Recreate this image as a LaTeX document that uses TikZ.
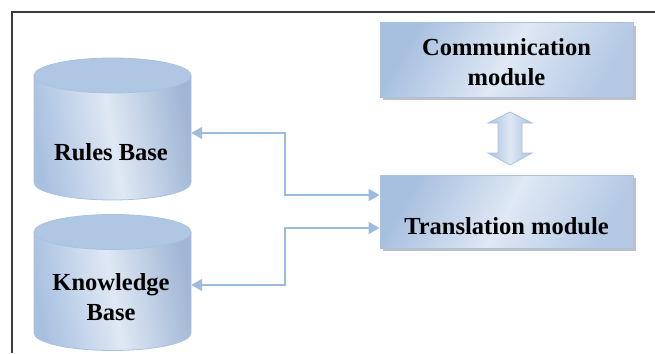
\documentclass[tikz,border=0pt]{standalone}
\usepackage{fontspec}
\setmainfont{Liberation Serif}
\usetikzlibrary{arrows.meta,shadows,calc}

\definecolor{linkblue}{HTML}{9DBBDE}
\definecolor{edgeblue}{HTML}{A9C1E0}
\definecolor{capfill}{HTML}{B0C7E4}
\definecolor{shadeDark}{HTML}{A8C0E0}
\definecolor{shadeLight}{HTML}{DFE8F4}
\definecolor{frameline}{HTML}{3C3C3C}

\tikzset{
  every node/.style={font=\fontsize{24.5}{30}\selectfont\bfseries, text=black},
  modbox/.style={draw=edgeblue, line width=1pt, minimum width=253pt,
    shading=axis, top color=shadeDark, bottom color=shadeDark!85!white,
    middle color=shadeLight, shading angle=60,
    drop shadow={shadow xshift=3pt, shadow yshift=-3pt, opacity=0.55, fill=black!45}},
  label/.style={align=center, inner sep=0pt},
  anchorbox/.style={draw=none, fill=none, inner sep=0pt, minimum width=157pt},
  link/.style={draw=linkblue, line width=2pt,
    {Triangle[length=11pt,width=12pt]}-{Triangle[length=11pt,width=12pt]}},
}

% database drum: #1 centre x, #2 top-cap centre y, #3 bottom centre y (all as negative-y pixels)
\newcommand{\drumshape}[3]{%
  \shade[left color=shadeDark, right color=shadeDark!95!black, middle color=shadeLight,
         shading angle=100]
    (#1-78.5,#2) -- (#1-78.5,#3)
    arc[start angle=180, end angle=360, x radius=78.5, y radius=17.5]
    -- (#1+78.5,#2) -- cycle;
  \draw[edgeblue, line width=0.8pt]
    (#1-78.5,#2) -- (#1-78.5,#3)
    arc[start angle=180, end angle=360, x radius=78.5, y radius=17.5]
    -- (#1+78.5,#2);
  \fill[capfill] (#1,#2) ellipse[x radius=78.5, y radius=17.5];
  \draw[edgeblue, line width=0.8pt] (#1,#2) ellipse[x radius=78.5, y radius=17.5];
}

\begin{document}
\begin{tikzpicture}[x=1pt, y=1pt]
  \useasboundingbox (0,0) rectangle (655,-353);

  % outer frame (top and left edges)
  \draw[frameline, line width=1.6pt] (655,-12) -- (12,-12) -- (12,-353);

  % database drums
  \drumshape{112.5}{-75.5}{-182.5}
  \drumshape{112.5}{-232}{-333}
  \node[anchorbox, minimum height=107pt] (rules) at (112.5,-129) {};
  \node[anchorbox, minimum height=101pt] (know) at (112.5,-282.5) {};
  \node[label] (rulestxt) at (111,-152.5) {Rules Base};
  \node[label] (knowtxt) at (111,-297) {Knowledge\\Base};

  % module boxes
  \node[modbox, minimum height=74pt] (comm) at (506.5,-60) {};
  \node[label] (commtxt) at (506.5,-62) {Communication\\module};
  \node[modbox, minimum height=73pt] (trans) at (506.5,-211.5) {};
  \node[label] (transtxt) at (506.5,-226) {Translation module};

  % block double arrow between the modules
  \shade[draw=edgeblue, line width=0.8pt, left color=shadeDark, right color=shadeDark,
         middle color=shadeLight]
    (510,-112) -- (532,-123) -- (522,-123) -- (522,-153) -- (532,-153)
    -- (510,-165) -- (488,-153) -- (498,-153) -- (498,-123) -- (488,-123) -- cycle;

  % connectors between the translation module and the bases
  \draw[link] ([yshift=16.5pt]trans.west) -- ++(-95,0) |- ([yshift=-4pt]rules.east);
  \draw[link] ([yshift=-16.5pt]trans.west) -- ++(-95,0) |- ([yshift=-2.5pt]know.east);
\end{tikzpicture}
\end{document}
